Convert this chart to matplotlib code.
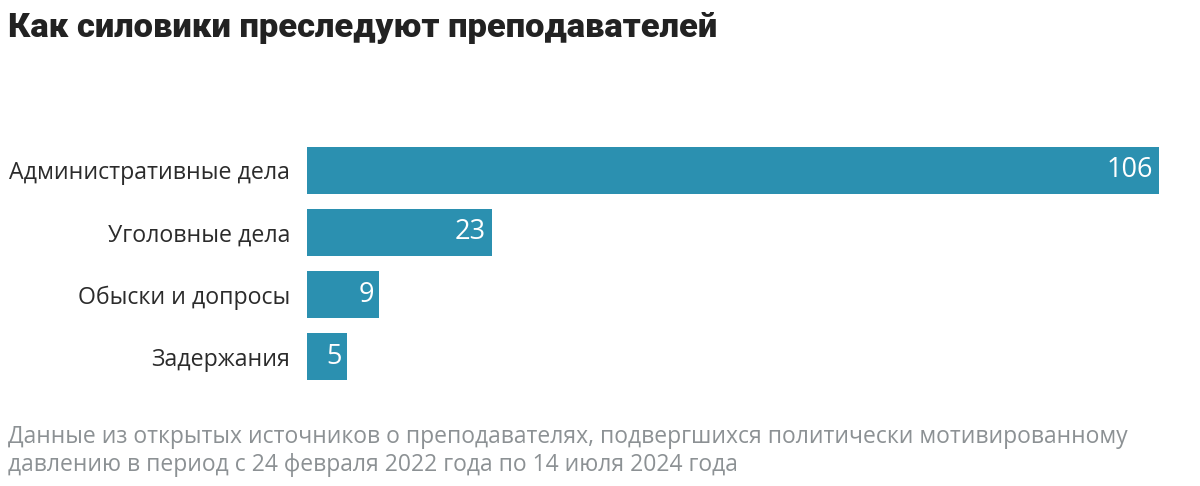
import matplotlib
matplotlib.use('Agg')
import matplotlib.pyplot as plt

categories = ['Административные дела', 'Уголовные дела', 'Обыски и допросы', 'Задержания']
values = [106, 23, 9, 5]

title = 'Как силовики преследуют преподавателей'
note = ('Данные из открытых источников о преподавателях, подвергшихся политически мотивированному\n'
        'давлению в период с 24 февраля 2022 года по 14 июля 2024 года')

BAR_COLOR = '#2b90b0'
TEXT_COLOR = '#2b2b2b'
NOTE_COLOR = '#8c9194'

fig = plt.figure(figsize=(12, 4.86), dpi=100)
ax = fig.add_axes([307 / 1200, 1 - 380 / 486, (1159 - 307) / 1200, (380 - 147) / 486])

pos = list(range(len(categories)))
ax.barh(pos, values, height=0.758, color=BAR_COLOR)
ax.set_xlim(0, max(values))
ax.set_ylim(3.379, -0.379)

for y, v in zip(pos, values):
    ax.text(v - 0.7, y, str(v), color='white', fontsize=19.5, family='Open Sans',
            ha='right', va='center')

ax.set_yticks(pos)
ax.set_yticklabels(categories, fontsize=16.7, family='Open Sans', color=TEXT_COLOR)
ax.tick_params(axis='y', length=0, pad=12)
ax.set_xticks([])
for s in ax.spines.values():
    s.set_visible(False)

fig.text(8 / 1200, 1 - 28 / 486, title, fontsize=24.8, fontweight='heavy',
         family='Roboto', color='#222222', va='center', ha='left')
fig.text(8 / 1200, 1 - 451 / 486, note, fontsize=16.5, family='Open Sans',
         color=NOTE_COLOR, va='center', ha='left', linespacing=1.25)

fig.savefig('out.png', dpi=100)
